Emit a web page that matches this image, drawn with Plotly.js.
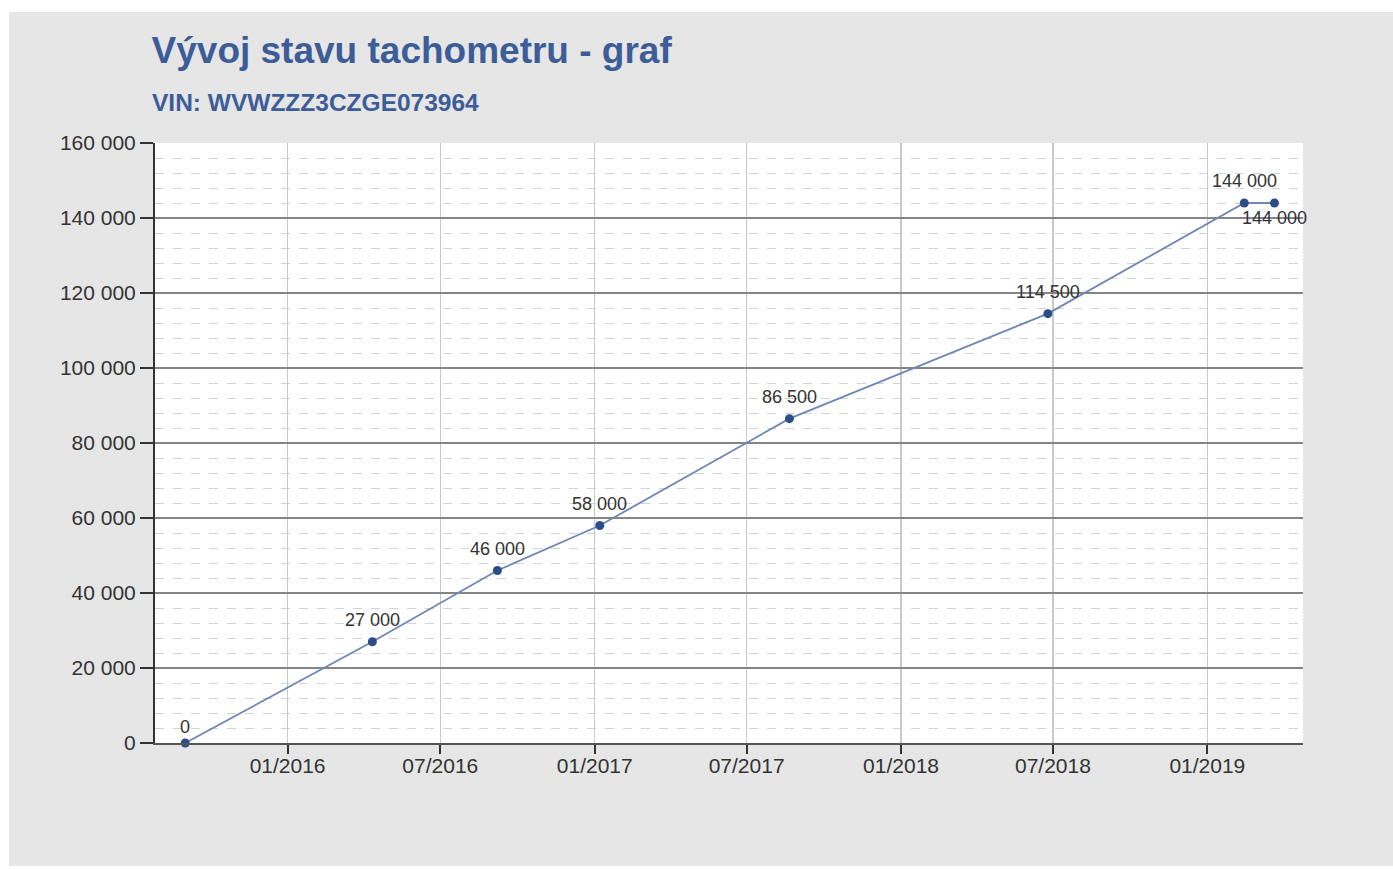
<!DOCTYPE html>
<html>
<head>
<meta charset="utf-8">
<script src="https://cdn.plot.ly/plotly-3.0.1.min.js"></script>
<style>
  html, body { margin: 0; padding: 0; background: #ffffff; }
  #chart { position: absolute; left: 9px; top: 12px; width: 1384px; height: 854px; }
</style>
</head>
<body>
<div id="chart"></div>
<script>
const dates = ["2015-09-01", "2016-04-11", "2016-09-07", "2017-01-07", "2017-08-21", "2018-06-25", "2019-02-14", "2019-03-22"];
const odometer = [0, 27000, 46000, 58000, 86500, 114500, 144000, 144000];
const labelBelow = [false, false, false, false, false, false, false, true];
const titleText = "Vývoj stavu tachometru - graf";
const subtitleText = "VIN: WVWZZZ3CZGE073964";

const labelFont = { family: "Liberation Sans, Arial, sans-serif", size: 18, color: "#333333" };

const trace = {
  x: dates,
  y: odometer,
  type: "scatter",
  mode: "lines+markers",
  line: { color: "#6f87b5", width: 1.8 },
  marker: { color: "#2d4d8a", size: 9 },
  hoverinfo: "x+y",
  cliponaxis: false
};

const fmt = v => Math.round(v).toString().replace(/\B(?=(\d{3})+(?!\d))/g, " ");

const pointLabels = dates.map((d, i) => ({
  x: d, y: odometer[i], xref: "x", yref: "y",
  text: fmt(odometer[i]),
  showarrow: false,
  xanchor: "center", yanchor: "middle",
  yshift: labelBelow[i] ? -15 : (odometer[i] === 0 ? 16 : 22),
  font: labelFont
}));

const layout = {
  width: 1384,
  height: 854,
  paper_bgcolor: "#e6e6e6",
  plot_bgcolor: "#ffffff",
  separators: ", ",
  showlegend: false,
  margin: { l: 146, r: 90, t: 131, b: 123 },
  title: {
    text: titleText,
    x: 0.103, xanchor: "left", xref: "container",
    y: 0.9555, yanchor: "middle", yref: "container",
    font: { family: "Liberation Sans, Arial, sans-serif", size: 37, color: "#3d5d99", weight: "bold" }
  },
  annotations: [{
    text: "<b>" + subtitleText + "</b>",
    xref: "paper", yref: "paper",
    x: -0.004, y: 1.0667, xanchor: "left", yanchor: "middle",
    showarrow: false,
    font: { family: "Liberation Sans, Arial, sans-serif", size: 24.5, color: "#3d5d99" }
  }].concat(pointLabels),
  xaxis: {
    type: "date",
    range: ["2015-07-27", "2019-04-25"],
    tick0: "2016-01-01",
    dtick: "M6",
    tickformat: "%m/%Y",
    ticks: "outside",
    ticklen: 9,
    tickwidth: 2,
    tickcolor: "#333333",
    ticklabelstandoff: -6,
    showline: true,
    linecolor: "#555555",
    linewidth: 2,
    showgrid: true,
    gridcolor: "#c4c8cf",
    gridwidth: 1.5,
    zeroline: false,
    tickfont: { family: "Liberation Sans, Arial, sans-serif", size: 21, color: "#333333" }
  },
  yaxis: {
    range: [0, 160000],
    tick0: 0,
    dtick: 20000,
    tickformat: ",d",
    ticks: "outside",
    ticklen: 13,
    tickwidth: 2,
    tickcolor: "#333333",
    showline: true,
    linecolor: "#333333",
    linewidth: 2,
    showgrid: true,
    gridcolor: "#858585",
    gridwidth: 1.4,
    zeroline: false,
    tickfont: { family: "Liberation Sans, Arial, sans-serif", size: 21, color: "#333333" },
    minor: {
      dtick: 4000,
      showgrid: true,
      gridcolor: "#cfd3da",
      griddash: "dash",
      gridwidth: 1
    }
  }
};

Plotly.newPlot("chart", [trace], layout, { displayModeBar: false, staticPlot: true });
</script>
</body>
</html>
